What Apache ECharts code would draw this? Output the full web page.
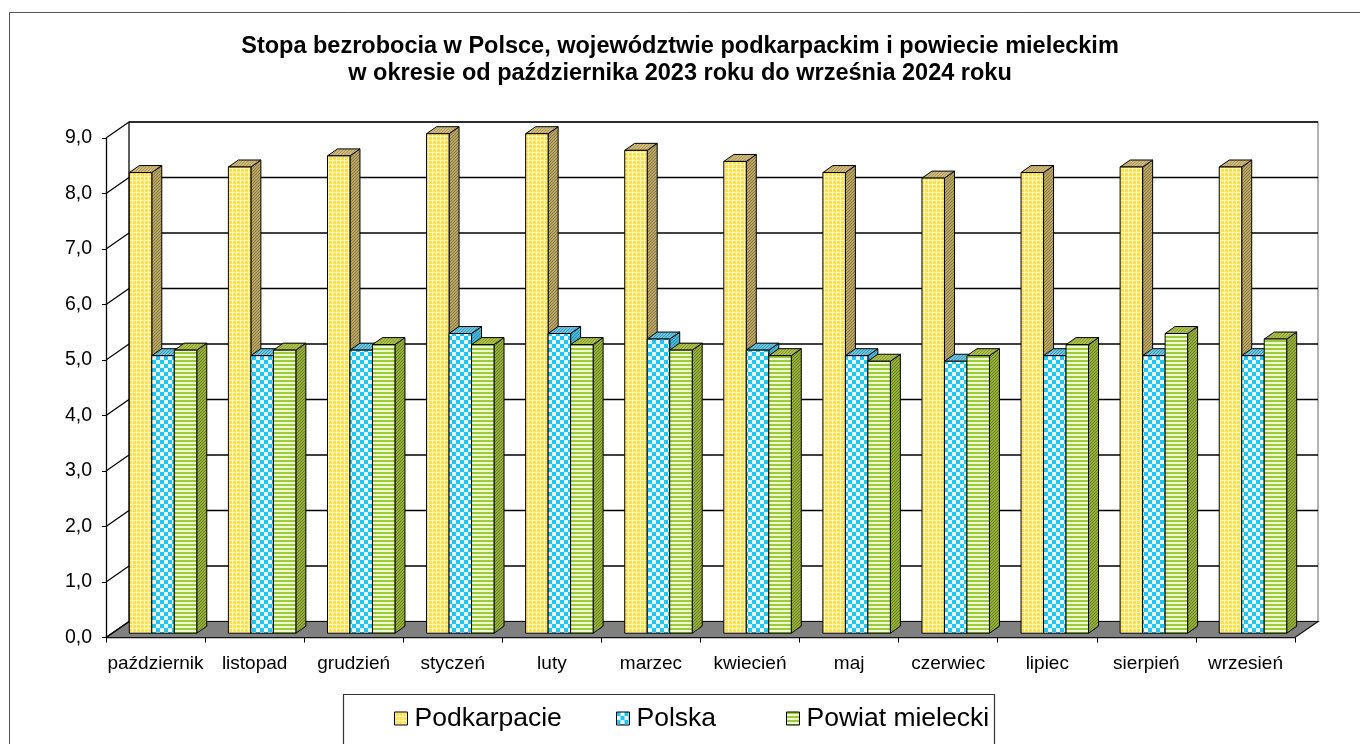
<!DOCTYPE html>
<html><head><meta charset="utf-8">
<script src="https://cdn.jsdelivr.net/npm/echarts@6/dist/echarts.min.js"></script>
<style>html,body{margin:0;padding:0;background:#fff}#c{width:1360px;height:744px}</style>
</head><body><div id="c"></div>
<script>
// ---- data ----
const categories = ['październik','listopad','grudzień','styczeń','luty','marzec','kwiecień','maj','czerwiec','lipiec','sierpień','wrzesień'];
const podkarpacie = [8.3, 8.4, 8.6, 9.0, 9.0, 8.7, 8.5, 8.3, 8.2, 8.3, 8.4, 8.4];
const polska      = [5.0, 5.0, 5.1, 5.4, 5.4, 5.3, 5.1, 5.0, 4.9, 5.0, 5.0, 5.0];
const powiat      = [5.1, 5.1, 5.2, 5.2, 5.2, 5.1, 5.0, 4.9, 5.0, 5.2, 5.4, 5.3];
const yTicks = [0, 1, 2, 3, 4, 5, 6, 7, 8, 9];
const seriesNames = ['Podkarpacie', 'Polska', 'Powiat mielecki'];
const titleText = 'Stopa bezrobocia w Polsce, województwie podkarpackim i powiecie mieleckim\nw okresie od października 2023 roku do września 2024 roku';

// ---- style constants ----
const DX = 23, DY = -16;          // wall depth
const BX = 7.5, BY = -4.3;        // bar front plane offset
const BDX = 10, BDY = -7;         // bar depth
const BAR_RATIO = 0.227;

function pat(w, h, draw) {
  const c = document.createElement('canvas');
  c.width = w; c.height = h;
  const ctx = c.getContext('2d');
  draw(ctx, w, h);
  return { image: c, repeat: 'repeat' };
}
function hatch(base, line) {
  return pat(6, 6, (ctx) => {
    ctx.fillStyle = base; ctx.fillRect(0, 0, 6, 6);
    ctx.fillStyle = line;
    for (let x = 0; x < 6; x++) for (let y = 0; y < 6; y++) if ((x + y) % 3 === 0) ctx.fillRect(x, y, 1, 1);
  });
}
const yellowFront = pat(4, 4, (ctx) => {
  ctx.fillStyle = '#FFDF4A'; ctx.fillRect(0, 0, 4, 4);
  ctx.fillStyle = '#FFF6C4'; ctx.fillRect(0, 0, 4, 1); ctx.fillRect(0, 0, 1, 4);
});
const cyanFront = pat(8, 8, (ctx) => {
  ctx.fillStyle = '#E9FAFF'; ctx.fillRect(0, 0, 8, 8);
  ctx.fillStyle = '#1DC6F3'; ctx.fillRect(0, 0, 4, 4); ctx.fillRect(4, 4, 4, 4);
});
const greenFront = pat(4, 4, (ctx) => {
  ctx.fillStyle = '#EEF8D2'; ctx.fillRect(0, 0, 4, 4);
  ctx.fillStyle = '#9CCB37'; ctx.fillRect(0, 0, 4, 2);
});
const faces = [
  { front: yellowFront, side: hatch('#B6A465', '#8E7C42'), top: hatch('#CDB87B', '#B09A5C') },
  { front: cyanFront, side: hatch('#4BB7D6', '#2A8FB0'), top: hatch('#6CC3DD', '#3C9DBE') },
  { front: greenFront, side: hatch('#93AC3C', '#6C8722'), top: hatch('#ABBE4C', '#8AA032') }
];
const seriesData = [podkarpacie, polska, powiat];

function renderWalls(params, api) {
  const cs = params.coordSys;
  const x0 = cs.x, x1 = cs.x + cs.width, yb = cs.y + cs.height, yt = cs.y;
  const ch = [];
  ch.push({ type: 'rect', shape: { x: x0 + DX, y: yt + DY, width: cs.width, height: cs.height },
    style: { fill: '#fff', stroke: '#9a9a9a', lineWidth: 1.5 } });
  ch.push({ type: 'line', shape: { x1: x0 + DX, y1: yt + DY, x2: x0 + DX, y2: yb + DY },
    style: { stroke: '#222', lineWidth: 1.2 } });
  ch.push({ type: 'polygon', shape: { points: [[x0, yb], [x1, yb], [x1 + DX, yb + DY], [x0 + DX, yb + DY]] },
    style: { fill: '#808080', stroke: '#111', lineWidth: 1.2 } });
  yTicks.forEach(v => {
    const y = api.coord([0, v])[1];
    if (v > 0) ch.push({ type: 'line', shape: { x1: x0 + DX, y1: y + DY, x2: x1 + DX, y2: y + DY },
      style: { stroke: '#000', lineWidth: 1.5 } });
    ch.push({ type: 'line', shape: { x1: x0, y1: y, x2: x0 + DX, y2: y + DY },
      style: { stroke: '#000', lineWidth: 1.3 } });
  });
  return { type: 'group', children: ch };
}

function makeBarRender(si) {
  return function (params, api) {
    const i = api.value(0), v = api.value(1);
    const top = api.coord([i, v]), base = api.coord([i, 0]);
    const band = api.size([1, 0])[0];
    const w = band * BAR_RATIO;
    const xl = top[0] - 1.5 * w + si * w + BX, xr = xl + w;
    const yt = top[1] + BY, yb = base[1] + BY;
    const f = faces[si];
    const st = { stroke: '#000', lineWidth: 1 };
    return { type: 'group', children: [
      { type: 'polygon', shape: { points: [[xr, yt], [xr + BDX, yt + BDY], [xr + BDX, yb + BDY], [xr, yb]] },
        style: Object.assign({ fill: f.side }, st) },
      { type: 'polygon', shape: { points: [[xl, yt], [xl + BDX, yt + BDY], [xr + BDX, yt + BDY], [xr, yt]] },
        style: Object.assign({ fill: f.top }, st) },
      { type: 'rect', shape: { x: xl, y: yt, width: w, height: yb - yt },
        style: Object.assign({ fill: f.front }, st) }
    ] };
  };
}

const legendLefts = [394, 616, 786];
const chart = echarts.init(document.getElementById('c'), null, { renderer: 'canvas' });
chart.setOption({
  animation: false,
  backgroundColor: '#fff',
  title: { text: titleText, left: 'center', top: 33, padding: 0,
    textStyle: { fontFamily: 'Liberation Sans', fontSize: 23.5, fontWeight: 'bold', color: '#000', lineHeight: 27 } },
  grid: { left: 106, top: 138, width: 1189, height: 499.5 },
  xAxis: { type: 'category', data: categories, boundaryGap: true,
    axisLine: { show: true, lineStyle: { color: '#000', width: 1.3 } },
    axisTick: { show: true, length: 5, interval: 0, lineStyle: { color: '#000' } },
    axisLabel: { interval: 0, margin: 17, fontFamily: 'Liberation Sans', fontSize: 19, color: '#000' },
    splitLine: { show: false } },
  yAxis: { type: 'value', min: 0, max: 9, interval: 1,
    axisLine: { show: true, lineStyle: { color: '#000', width: 1.3 } },
    axisTick: { show: true, length: 4, lineStyle: { color: '#000' } },
    axisLabel: { margin: 14, fontFamily: 'Liberation Sans', fontSize: 19.5, color: '#000',
      formatter: v => v.toFixed(1).replace('.', ',') },
    splitLine: { show: false } },
  legend: seriesNames.map((n, k) => ({
    data: [{ name: n, itemStyle: { color: faces[k].front, borderColor: '#000', borderWidth: 1 } }],
    left: legendLefts[k], top: 705, icon: 'rect', itemWidth: 13, itemHeight: 13, itemGap: 0, padding: 0,
    selectedMode: false,
    textStyle: { fontFamily: 'Liberation Sans', fontSize: 26.5, color: '#000', padding: [0, 0, 0, 2] }
  })),
  graphic: [
    { type: 'rect', shape: { x: 9.5, y: 12.5, width: 1400, height: 800 }, style: { fill: 'none', stroke: '#555', lineWidth: 1 }, z: -10 },
    { type: 'rect', shape: { x: 343.5, y: 694.5, width: 651, height: 70 }, style: { fill: 'none', stroke: '#333', lineWidth: 1.2 } }
  ],
  series: [
    { type: 'custom', name: '_walls', data: [[0, 0]], renderItem: renderWalls, clip: false, z: 1, silent: true },
    ...seriesNames.map((n, k) => ({
      type: 'custom', name: n, z: 2 + k, clip: false,
      itemStyle: { color: faces[k].front },
      data: seriesData[k].map((v, i) => [i, v]),
      renderItem: makeBarRender(k)
    }))
  ]
});
</script>
</body></html>
